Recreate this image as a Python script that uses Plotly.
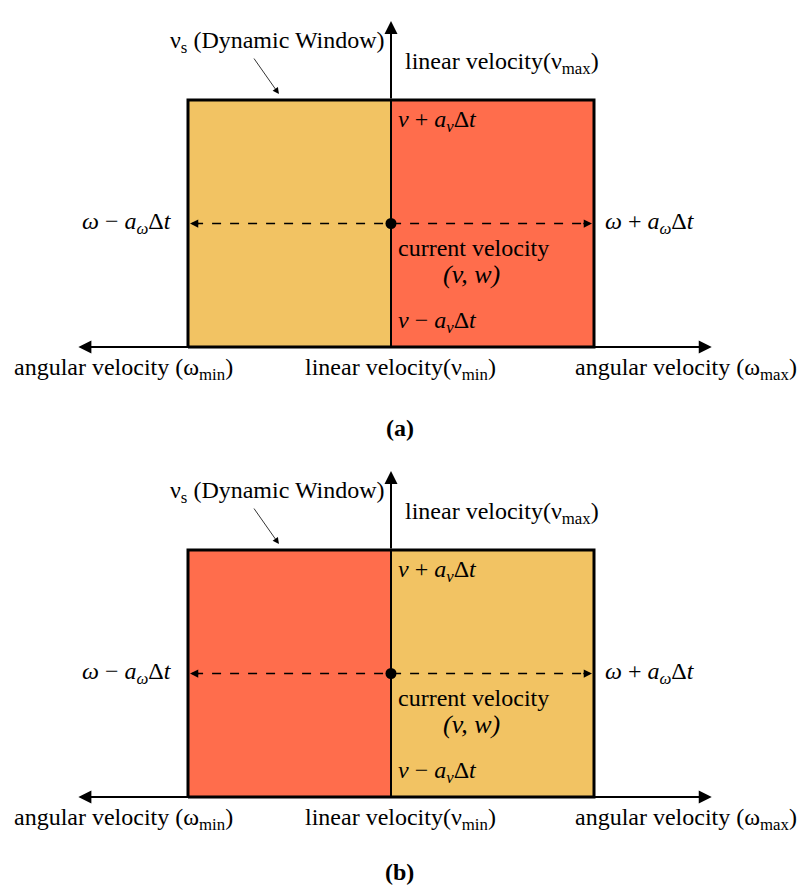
import plotly.graph_objects as go

# ---- data (conceptual units: ω horizontally, v vertically) ----
panel_names = ["(a)", "(b)"]
window_omega = [-1.0, 0.0, 1.0]      # ω−aωΔt, ω (current), ω+aωΔt
window_v = [0.0, 0.5, 1.0]           # v−avΔt, v (current), v+avΔt
left_colors = ["#F2C363", "#FF6D4C"]
right_colors = ["#FF6D4C", "#F2C363"]
omega_axis_ends = [-1.54, 1.58]      # ω_min, ω_max arrow tips
v_axis_top = 1.32                    # ν_max arrow tip

FONT = "Liberation Serif"
W, H = 797, 890

fig = go.Figure()

x_range = [-391 / 203, 406 / 203]
y_ranges = [[-98 / 247, 347 / 247], [-93 / 247, 352 / 247]]
domains = [[0.5, 1.0], [0.0, 0.5]]
caption_v = [-0.328, -0.303]

annotations = []
for i, name in enumerate(panel_names):
    sx = "" if i == 0 else str(i + 1)
    xr, yr = "x" + sx, "y" + sx
    w0, wc, w1 = window_omega
    v0, vc, v1 = window_v
    # filled halves
    fig.add_trace(go.Scatter(x=[w0, wc, wc, w0, w0], y=[v0, v0, v1, v1, v0], fill="toself",
                             fillcolor=left_colors[i], line=dict(width=0), mode="lines",
                             xaxis=xr, yaxis=yr, hoverinfo="skip", showlegend=False))
    fig.add_trace(go.Scatter(x=[wc, w1, w1, wc, wc], y=[v0, v0, v1, v1, v0], fill="toself",
                             fillcolor=right_colors[i], line=dict(width=0), mode="lines",
                             xaxis=xr, yaxis=yr, hoverinfo="skip", showlegend=False))
    # outline
    fig.add_trace(go.Scatter(x=[w0, w1, w1, w0, w0], y=[v0, v0, v1, v1, v0], mode="lines",
                             line=dict(color="black", width=3), xaxis=xr, yaxis=yr,
                             hoverinfo="skip", showlegend=False))
    # vertical axis line inside the window
    fig.add_trace(go.Scatter(x=[wc, wc], y=[v0, v1], mode="lines",
                             line=dict(color="black", width=2), xaxis=xr, yaxis=yr,
                             hoverinfo="skip", showlegend=False))
    # dashed line
    fig.add_trace(go.Scatter(x=[w0 + 0.03, w1 - 0.03], y=[vc, vc], mode="lines",
                             line=dict(color="black", width=1.5, dash="dash"), xaxis=xr, yaxis=yr,
                             hoverinfo="skip", showlegend=False))
    # current velocity dot
    fig.add_trace(go.Scatter(x=[wc], y=[vc], mode="markers",
                             marker=dict(color="black", size=11), xaxis=xr, yaxis=yr,
                             hoverinfo="skip", showlegend=False))

    def arrow(x, y, ax, ay, width=2, size=1.0, head=2):
        annotations.append(dict(x=x, y=y, ax=ax, ay=ay, xref=xr, yref=yr, axref=xr, ayref=yr,
                                text="", showarrow=True, arrowhead=head, arrowsize=size,
                                arrowwidth=width, arrowcolor="black", standoff=0, startstandoff=0))

    # axes arrows
    arrow(omega_axis_ends[0], v0, wc, v0, width=2, size=1.3)
    arrow(omega_axis_ends[1], v0, wc, v0, width=2, size=1.3)
    arrow(wc, v_axis_top, wc, v1, width=2, size=1.3)
    # dashed arrow heads
    arrow(w0 + 0.01, vc, w0 + 0.06, vc, width=1.5, size=1.1)
    arrow(w1 - 0.01, vc, w1 - 0.06, vc, width=1.5, size=1.1)
    # pointer to dynamic window
    arrow(-0.552, 1.024, -0.68, 1.174, width=0.8, size=1.6)

    def label(x, y, text, size=24, anchor="left"):
        annotations.append(dict(x=x, y=y, xref=xr, yref=yr, text=text, showarrow=False,
                                xanchor=anchor, yanchor="middle",
                                font=dict(family=FONT, size=size, color="black")))

    label(-1.1, 1.235, "ν<sub>s</sub> (Dynamic Window)")
    label(0.06, 1.15, "linear velocity(ν<sub>max</sub>)")
    label(0.025, 0.915, "<i>v</i> + <i>a</i><sub><i>v</i></sub>Δ<i>t</i>", size=24)
    label(-1.07, 0.502, "<i>ω</i> − <i>a</i><sub><i>ω</i></sub>Δ<i>t</i>", size=24, anchor="right")
    label(1.045, 0.502, "<i>ω</i> + <i>a</i><sub><i>ω</i></sub>Δ<i>t</i>", size=24)
    label(0.025, 0.40, "current velocity")
    label(0.245, 0.292, "<i>(v, w)</i>", size=26)
    label(0.025, 0.101, "<i>v</i> − <i>a</i><sub><i>v</i></sub>Δ<i>t</i>", size=24)
    label(-1.865, -0.088, "angular velocity (ω<sub>min</sub>)")
    label(-0.435, -0.088, "linear velocity(ν<sub>min</sub>)")
    label(0.895, -0.088, "angular velocity (ω<sub>max</sub>)")
    annotations.append(dict(x=0.044, y=caption_v[i], xref=xr, yref=yr, text="<b>" + name + "</b>",
                            showarrow=False, xanchor="center", yanchor="middle",
                            font=dict(family=FONT, size=24, color="black")))

axis_common = dict(visible=False, showgrid=False, zeroline=False, fixedrange=True)
layout = dict(width=W, height=H, margin=dict(l=0, r=0, t=0, b=0),
              paper_bgcolor="white", plot_bgcolor="white", showlegend=False,
              annotations=annotations)
layout["xaxis"] = dict(range=x_range, domain=[0, 1], anchor="y", **axis_common)
layout["yaxis"] = dict(range=y_ranges[0], domain=domains[0], anchor="x", **axis_common)
layout["xaxis2"] = dict(range=x_range, domain=[0, 1], anchor="y2", **axis_common)
layout["yaxis2"] = dict(range=y_ranges[1], domain=domains[1], anchor="x2", **axis_common)
fig.update_layout(**layout)

fig.write_html("out.html", config={"displayModeBar": False},
               post_script="document.body.style.margin='0';document.body.style.overflow='hidden';")
